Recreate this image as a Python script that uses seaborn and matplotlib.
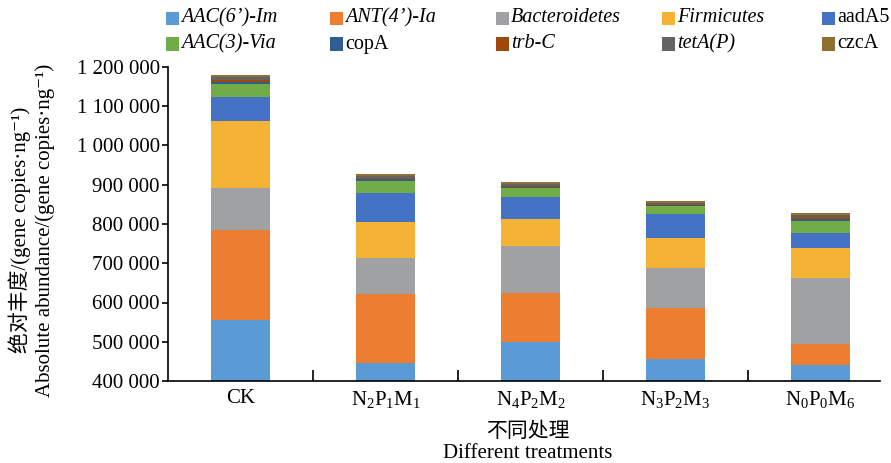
import numpy as np
import pandas as pd
import matplotlib
matplotlib.use("Agg")
import matplotlib.pyplot as plt
from matplotlib.patches import Rectangle
from matplotlib.ticker import FuncFormatter, FixedLocator
import seaborn as sns

sns.set_theme(style="white")
plt.rcParams["font.family"] = ["Liberation Serif", "DejaVu Serif", "Noto Sans CJK SC"]
plt.rcParams["mathtext.fontset"] = "custom"
plt.rcParams["mathtext.rm"] = "Liberation Serif"
plt.rcParams["mathtext.it"] = "Liberation Serif:italic"
for key in ["text.color", "xtick.color", "ytick.color", "axes.labelcolor"]:
    plt.rcParams[key] = "black"

# Treatments and their axis labels
treatments = ["CK", "N2P1M1", "N4P2M2", "N3P2M3", "N0P0M6"]
tick_labels = ["CK",
               r"$\mathregular{N_2P_1M_1}$",
               r"$\mathregular{N_4P_2M_2}$",
               r"$\mathregular{N_3P_2M_3}$",
               r"$\mathregular{N_0P_0M_6}$"]

# Absolute abundance of each gene / taxon (gene copies per ng), stacked bottom to top
genes = ["AAC(6')-Im", "ANT(4')-Ia", "Bacteroidetes", "Firmicutes", "aadA5",
         "AAC(3)-Via", "copA", "trb-C", "tetA(P)", "czcA"]
legend_labels = ["AAC(6’)-Im", "ANT(4’)-Ia", "Bacteroidetes", "Firmicutes", "aadA5",
                 "AAC(3)-Via", "copA", "trb-C", "tetA(P)", "czcA"]
legend_styles = ["italic", "italic", "italic", "italic", "normal",
                 "italic", "normal", "italic", "italic", "normal"]
aac6_im       = [555000, 446000, 499000, 456000, 441000]
ant4_ia       = [230000, 176000, 124000, 131000, 53000]
bacteroidetes = [107000, 92000, 121000, 102000, 169000]
firmicutes    = [170000, 92000, 68000, 76000, 75000]
aada5         = [62000, 73000, 58000, 60000, 38000]
aac3_via      = [33000, 30000, 22000, 20000, 32000]
copa          = [6000, 5000, 3000, 3000, 6000]
trb_c         = [5000, 4000, 3000, 3000, 4000]
teta_p        = [6000, 4000, 3000, 3000, 4000]
czca          = [6000, 5000, 5000, 4000, 6000]

colors = ["#5B9BD5", "#ED7D31", "#A0A1A3", "#F5B335", "#4472C4",
          "#70AD47", "#2F5F8F", "#9E480E", "#636363", "#8E7035"]

series = [aac6_im, ant4_ia, bacteroidetes, firmicutes, aada5,
          aac3_via, copa, trb_c, teta_p, czca]
df = pd.DataFrame(dict(zip(genes, series)), index=treatments)
cum = df.cumsum(axis=1)

W, H = 891, 463
fig = plt.figure(figsize=(W / 100, H / 100), dpi=100)
ax = fig.add_axes([168 / W, 1 - 381 / H, (880 - 168) / W, (381 - 67) / H])

# Stacked bars: draw cumulative totals from the top layer down
for gene, color in reversed(list(zip(genes, colors))):
    sns.barplot(x=treatments, y=cum[gene].values, color=color, width=0.407,
                saturation=1, ax=ax, linewidth=0, zorder=2)

ax.set_ylim(400000, 1200000)
ax.set_xlim(-0.5, 4.41)
ax.set_yticks(np.arange(400000, 1200001, 100000))
ax.yaxis.set_major_formatter(FuncFormatter(lambda v, p: f"{int(v):,}".replace(",", " ")))
ax.set_xticks(range(len(treatments)))
ax.set_xticklabels(tick_labels)
ax.xaxis.set_minor_locator(FixedLocator([0.5, 1.5, 2.5, 3.5]))

ax.tick_params(axis="y", which="major", direction="out", length=4, width=1.2,
               labelsize=15, pad=2, color="black", left=True)
ax.tick_params(axis="x", which="major", length=0, labelsize=15, pad=6)
ax.tick_params(axis="x", which="minor", direction="in", length=8, width=1.2,
               color="black", bottom=True)

for side in ["top", "right"]:
    ax.spines[side].set_visible(False)
for side in ["left", "bottom"]:
    ax.spines[side].set_color("black")
    ax.spines[side].set_linewidth(1.2)

fig.text(20 / W, 1 - 230 / H, "绝对丰度/(gene copies·ng⁻¹)",
         rotation=90, ha="center", va="center", fontsize=15)
fig.text(45 / W, 1 - 230 / H, "Absolute abundance/(gene copies·ng⁻¹)",
         rotation=90, ha="center", va="center", fontsize=15)
fig.text(528 / W, 1 - 432 / H, "不同处理", ha="center", va="center", fontsize=15)
fig.text(528 / W, 1 - 453 / H, "Different treatments", ha="center", va="center",
         fontsize=15)

# Legend: two rows of five entries on fixed columns
col_x = [166, 330, 496, 662, 822]
row_y = [18, 44]
sq = 13
for i, (label, color, st) in enumerate(zip(legend_labels, colors, legend_styles)):
    x = col_x[i % 5]
    y = row_y[i // 5]
    fig.patches.append(Rectangle((x / W, 1 - (y + sq / 2) / H), sq / W, sq / H,
                                 transform=fig.transFigure, facecolor=color,
                                 edgecolor="none"))
    fig.text((x + sq + 2) / W, 1 - y / H, label, ha="left", va="center",
             fontsize=14.5, style=st)

fig.savefig("out.png", dpi=100)
